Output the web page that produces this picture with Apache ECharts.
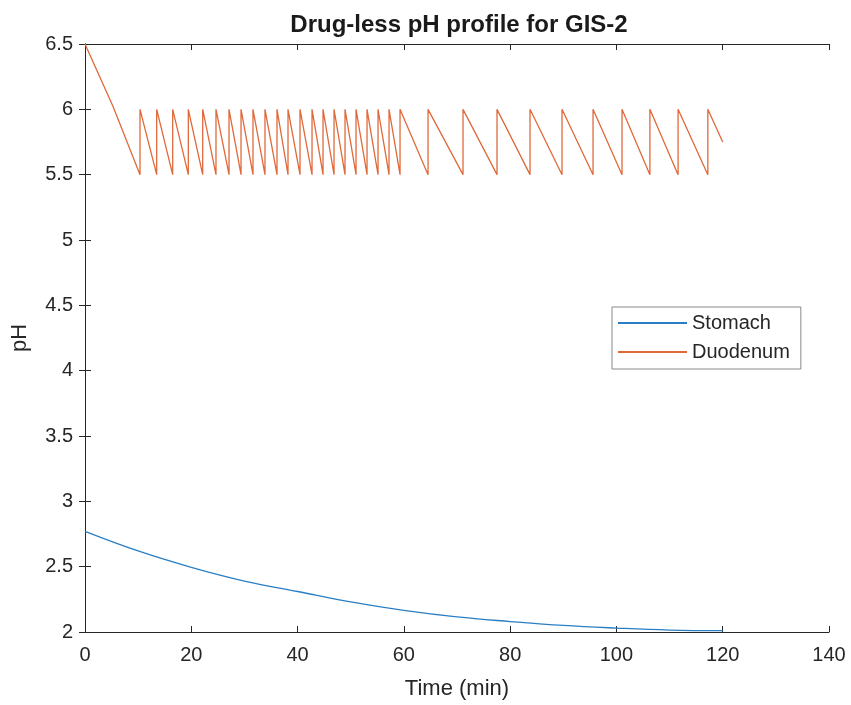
<!DOCTYPE html>
<html>
<head>
<meta charset="utf-8">
<title>Drug-less pH profile for GIS-2</title>
<script src="https://cdn.jsdelivr.net/npm/echarts@6/dist/echarts.min.js"></script>
<style>
  html, body { margin: 0; padding: 0; background: #ffffff; }
  #chart { width: 851px; height: 705px; }
</style>
</head>
<body>
<div id="chart"></div>
<script>
// Axis ticks
const xTicks = [0, 20, 40, 60, 80, 100, 120, 140];
const yTicks = [2, 2.5, 3, 3.5, 4, 4.5, 5, 5.5, 6, 6.5];

// Stomach pH readings (time in min, pH)
const stomachTime = [0, 10, 20, 30, 40, 50, 60, 70, 80, 90, 100, 110, 120];
const stomachPH = [2.77, 2.62, 2.495, 2.39, 2.31, 2.23, 2.165, 2.115, 2.08, 2.05, 2.03, 2.015, 2.01];

// Duodenum: first decay from the starting pH down to the lower threshold
const duodenumStartTime = [0, 5.3, 10.35];
const duodenumStartPH = [6.5, 6.02, 5.5];
// Times at which the duodenum pH is reset from the lower to the upper threshold
const duodenumResetTimes = [10.35, 13.49, 16.5, 19.44, 22.15, 24.65, 27.1, 29.36, 31.61, 33.87,
  36.13, 38.2, 40.46, 42.72, 44.79, 46.86, 48.93, 51.0, 53.07, 55.14, 57.21, 59.28,
  64.55, 71.13, 77.53, 83.74, 89.76, 95.6, 101.05, 106.3, 111.6, 117.2];
const duodenumLow = 5.5;
const duodenumHigh = 6.0;
const duodenumEndTime = 120;
const duodenumEndPH = 5.75;

// Assemble the sawtooth vertices
const duodenumData = duodenumStartTime.map((t, i) => [t, duodenumStartPH[i]]);
duodenumResetTimes.forEach((t, i) => {
  if (i > 0) duodenumData.push([t, duodenumLow]);
  duodenumData.push([t, duodenumHigh]);
});
duodenumData.push([duodenumEndTime, duodenumEndPH]);

const stomachData = stomachTime.map((t, i) => [t, stomachPH[i]]);

const textColor = '#262626';
const fontFamily = 'Liberation Sans, Arial, Helvetica, sans-serif';
const stomachColor = '#2a7fc4';
const duodenumColor = '#e0693a';

const frameAxis = {
  axisLine: { show: true, lineStyle: { color: textColor, width: 1 } },
  axisTick: { show: true, inside: true, length: 6, lineStyle: { color: textColor } },
  splitLine: { show: false }
};

const chart = echarts.init(document.getElementById('chart'), null, { renderer: 'canvas' });
chart.setOption({
  backgroundColor: '#ffffff',
  animation: false,
  title: {
    text: 'Drug-less pH profile for GIS-2',
    left: 454,
    top: 8,
    textAlign: 'center',
    textStyle: { fontFamily, fontSize: 24, fontWeight: 'bold', color: '#1a1a1a' }
  },
  grid: { left: 85, right: 22, top: 44, bottom: 73, containLabel: false },
  legend: {
    left: 612,
    top: 307,
    orient: 'vertical',
    itemWidth: 69,
    itemHeight: 20,
    itemGap: 9,
    padding: [6, 11, 7, 5],
    borderColor: '#8a8a8a',
    borderWidth: 1,
    backgroundColor: '#ffffff',
    itemStyle: { opacity: 0 },
    lineStyle: { width: 2 },
    textStyle: { fontFamily, fontSize: 20, color: textColor },
    data: ['Stomach', 'Duodenum']
  },
  xAxis: [
    Object.assign({
      type: 'value', position: 'bottom',
      min: xTicks[0], max: xTicks[xTicks.length - 1], interval: 20,
      name: 'Time (min)', nameLocation: 'middle', nameGap: 46,
      nameTextStyle: { fontFamily, fontSize: 22, color: textColor },
      axisLabel: { fontFamily, fontSize: 20, color: textColor, margin: 13 }
    }, frameAxis),
    Object.assign({
      type: 'value', position: 'top',
      min: xTicks[0], max: xTicks[xTicks.length - 1], interval: 20,
      axisLabel: { show: false }
    }, frameAxis)
  ],
  yAxis: [
    Object.assign({
      type: 'value', position: 'left',
      min: yTicks[0], max: yTicks[yTicks.length - 1], interval: 0.5,
      name: 'pH', nameLocation: 'middle', nameGap: 54, nameRotate: 90,
      nameTextStyle: { fontFamily, fontSize: 22, color: textColor },
      axisLabel: { fontFamily, fontSize: 20, color: textColor, margin: 12 }
    }, frameAxis),
    Object.assign({
      type: 'value', position: 'right',
      min: yTicks[0], max: yTicks[yTicks.length - 1], interval: 0.5,
      axisLabel: { show: false }
    }, frameAxis)
  ],
  series: [
    {
      name: 'Stomach',
      type: 'line',
      xAxisIndex: 0, yAxisIndex: 0,
      data: stomachData,
      smooth: 0.4,
      symbol: 'none',
      lineStyle: { color: stomachColor, width: 1.3 },
      itemStyle: { color: stomachColor }
    },
    {
      name: 'Duodenum',
      type: 'line',
      xAxisIndex: 0, yAxisIndex: 0,
      data: duodenumData,
      symbol: 'none',
      lineStyle: { color: duodenumColor, width: 1.3 },
      itemStyle: { color: duodenumColor }
    }
  ]
});
</script>
</body>
</html>
